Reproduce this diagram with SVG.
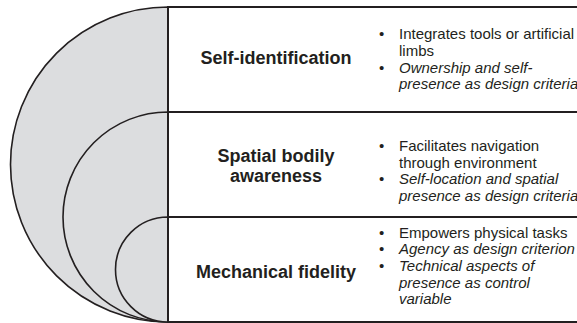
<svg xmlns="http://www.w3.org/2000/svg" width="577" height="323" viewBox="0 0 577 323">
<style>
.arc{fill:#dcdddf;stroke:#231f20;stroke-width:1.6}
.ln{stroke:#231f20;stroke-width:2;fill:none}
.h{font-family:"Liberation Sans",Arial,sans-serif;font-weight:bold;font-size:18px;fill:#231f20;text-anchor:middle}
.t{font-family:"Liberation Sans",Arial,sans-serif;font-size:15px;fill:#231f20}
.i{font-style:italic}
</style>
<rect width="577" height="323" fill="#ffffff"/>
<g id="arcs">
<path class="arc" d="M168,7 A157.5,157.5 0 0 0 168,322 Z"/>
<path class="arc" d="M168,112 A105,105 0 0 0 168,322 Z"/>
<path class="arc" d="M168,217 A52.5,52.5 0 0 0 168,322 Z"/>
</g>
<g id="connectors">
<line class="ln" x1="168" y1="7" x2="577" y2="7"/>
<line class="ln" x1="168" y1="112" x2="577" y2="112"/>
<line class="ln" x1="168" y1="217" x2="577" y2="217"/>
<line class="ln" x1="168" y1="322" x2="577" y2="322"/>
<line class="ln" x1="168" y1="6" x2="168" y2="323"/>
</g>
<g id="self-identification">
<text class="h" x="276" y="64">Self-identification</text>
<text class="t"><tspan x="379" y="39">•</tspan><tspan x="399" y="39">Integrates tools or artificial</tspan><tspan x="399" y="56">limbs</tspan></text>
<text class="t"><tspan x="379" y="72.5">•</tspan><tspan class="i" x="399" y="72.5">Ownership and self-</tspan><tspan class="i" x="399" y="89">presence as design criteria</tspan></text>
</g>
<g id="spatial-bodily-awareness">
<text class="h"><tspan x="276" y="162">Spatial bodily</tspan><tspan x="276" y="182">awareness</tspan></text>
<text class="t"><tspan x="379" y="151">•</tspan><tspan x="399" y="151">Facilitates navigation</tspan><tspan x="399" y="167.7">through environment</tspan></text>
<text class="t"><tspan x="379" y="184.3">•</tspan><tspan class="i" x="399" y="184.3">Self-location and spatial</tspan><tspan class="i" x="399" y="201">presence as design criteria</tspan></text>
</g>
<g id="mechanical-fidelity">
<text class="h" x="276" y="278">Mechanical fidelity</text>
<text class="t"><tspan x="379" y="237.7">•</tspan><tspan x="399" y="237.7">Empowers physical tasks</tspan></text>
<text class="t"><tspan x="379" y="254.3">•</tspan><tspan class="i" x="399" y="254.3">Agency as design criterion</tspan></text>
<text class="t"><tspan x="379" y="271">•</tspan><tspan class="i" x="399" y="271">Technical aspects of</tspan><tspan class="i" x="399" y="287.7">presence as control</tspan><tspan class="i" x="399" y="304.3">variable</tspan></text>
</g>
</svg>
